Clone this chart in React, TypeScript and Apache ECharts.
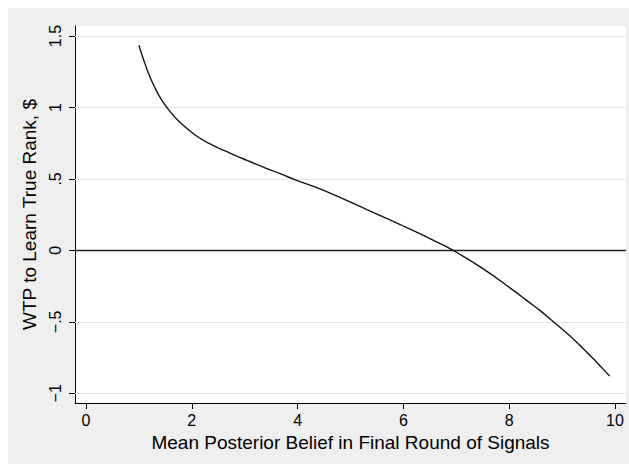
import React, { useEffect, useRef } from "react";
import * as echarts from "echarts";

const xValues = [1.0, 1.15, 1.3, 1.46, 1.65, 1.78, 2.09, 2.41, 2.72, 3.04, 3.35, 3.67, 3.98, 4.3, 4.67, 5.31, 5.94, 6.57, 6.94, 7.51, 8.08, 8.33, 8.58, 8.77, 9.34, 9.9];
const yValues = [1.435, 1.27, 1.14, 1.035, 0.945, 0.895, 0.8, 0.733, 0.681, 0.63, 0.583, 0.537, 0.49, 0.448, 0.392, 0.285, 0.18, 0.07, 0.0, -0.13, -0.28, -0.35, -0.42, -0.478, -0.665, -0.88];
const xTicks = [0, 2, 4, 6, 8, 10];
const yTicks = [-1, -0.5, 0, 0.5, 1, 1.5];
const yGridValues = [-1, -0.5, 0.5, 1, 1.5];
const xTitle = "Mean Posterior Belief in Final Round of Signals";
const yTitle = "WTP to Learn True Rank, $";

const FONT = "'Liberation Sans', Arial, Helvetica, sans-serif";

function stataFmt(v: number): string {
  const abs = Math.abs(v);
  let s = String(abs);
  if (s.startsWith("0.")) s = s.slice(1);
  return (v < 0 ? "\u2212" : "") + s;
}

export default function App() {
  const ref = useRef<HTMLDivElement>(null);
  useEffect(() => {
    if (!ref.current) return;
    const chart = echarts.init(ref.current, null, { renderer: "svg" });
    const data = xValues.map((x, i) => [x, yValues[i]]);
    chart.setOption({
      animation: false,
      backgroundColor: "#efefef",
      textStyle: { fontFamily: FONT },
      grid: {
        left: 67,
        right: 3,
        top: 18,
        bottom: 61,
        show: true,
        backgroundColor: "#ffffff",
        borderWidth: 0,
      },
      xAxis: {
        type: "value",
        min: -0.208,
        max: 10.208,
        axisLine: { show: true, onZero: false, lineStyle: { color: "#000", width: 1 } },
        axisTick: { show: true, length: 6, customValues: xTicks, lineStyle: { color: "#000" } },
        axisLabel: {
          customValues: xTicks,
          fontSize: 16,
          color: "#000",
          margin: 9,
          fontFamily: FONT,
        },
        splitLine: { show: false },
        name: xTitle,
        nameLocation: "middle",
        nameGap: 26,
        nameTextStyle: { fontSize: 19, color: "#000", fontFamily: FONT },
      },
      yAxis: {
        type: "value",
        min: -1.068,
        max: 1.57,
        axisLine: { show: true, onZero: false, lineStyle: { color: "#000", width: 1 } },
        axisTick: { show: true, length: 6, customValues: yTicks, lineStyle: { color: "#000" } },
        axisLabel: {
          customValues: yTicks,
          fontSize: 16,
          color: "#000",
          margin: 12,
          rotate: 90,
          fontFamily: FONT,
          formatter: (v: number) => stataFmt(v),
        },
        splitLine: { show: false },
        name: yTitle,
        nameLocation: "middle",
        nameGap: 30,
        nameRotate: 90,
        nameTextStyle: { fontSize: 19, color: "#000", fontFamily: FONT },
      },
      series: [
        {
          type: "line",
          data: [],
          silent: true,
          z: 1,
          markLine: {
            silent: true,
            z: 1,
            symbol: "none",
            label: { show: false },
            lineStyle: { color: "#e6e6e6", width: 1.2, type: "solid" },
            data: yGridValues.map((v) => ({ yAxis: v })),
          },
        },
        {
          type: "line",
          data: [],
          silent: true,
          z: 2,
          markLine: {
            silent: true,
            z: 2,
            symbol: "none",
            label: { show: false },
            lineStyle: { color: "#222", width: 1.3, type: "solid" },
            data: [{ yAxis: 0 }],
          },
        },
        {
          type: "line",
          data,
          smooth: 0.5,
          showSymbol: false,
          z: 10,
          lineStyle: { color: "#111", width: 1.4 },
        },
      ],
    });
    return () => chart.dispose();
  }, []);
  return (
    <div
      ref={ref}
      style={{ position: "absolute", left: 8, top: 8, width: 621, height: 456 }}
    />
  );
}
